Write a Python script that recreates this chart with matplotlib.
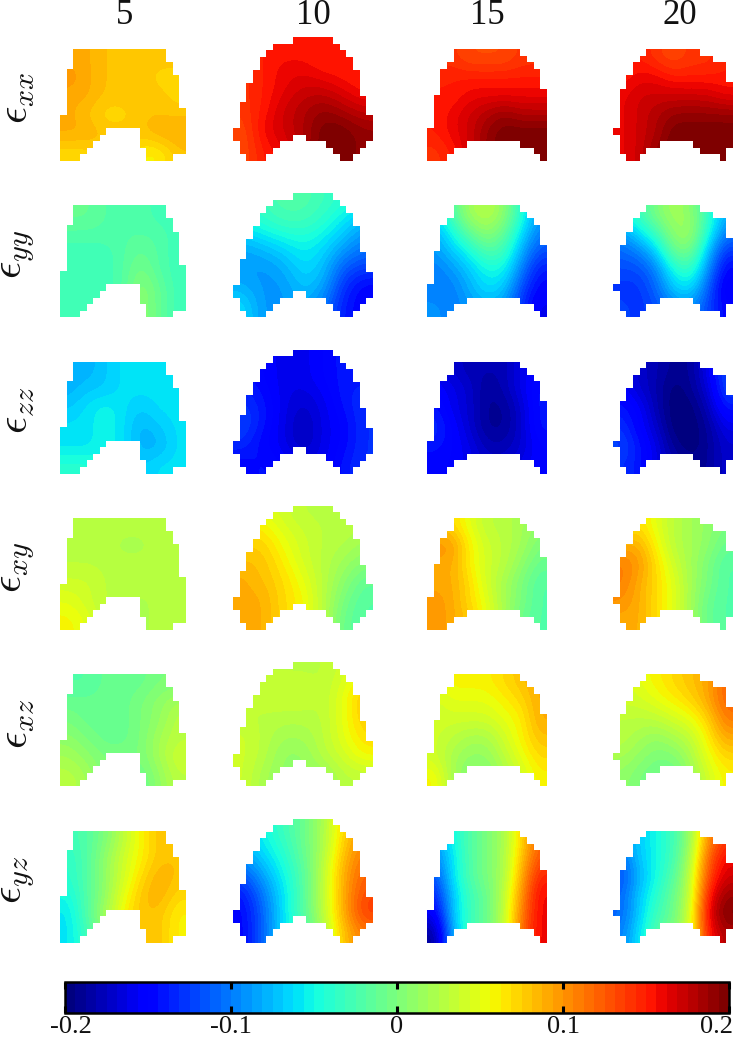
import numpy as np
import matplotlib
matplotlib.use('Agg')
import matplotlib.pyplot as plt
from matplotlib.path import Path
from matplotlib.cm import ScalarMappable
from matplotlib.colors import Normalize
from matplotlib.transforms import ScaledTranslation

plt.rcParams['font.family'] = ['Liberation Serif', 'DejaVu Serif']
plt.rcParams['mathtext.fontset'] = 'cm'

# column titles and row labels
frames = ['5', '10', '15', '20']
strains = [r'$\epsilon_{xx}$', r'$\epsilon_{yy}$', r'$\epsilon_{zz}$',
           r'$\epsilon_{xy}$', r'$\epsilon_{xz}$', r'$\epsilon_{yz}$']
cbar_ticks = [-0.2, -0.1, 0, 0.1, 0.2]
cbar_labels = ['-0.2', '-0.1', '0', '0.1', '0.2']

# footprint of the tissue for each frame: (first, end) cell spans per row
mask_5 = [[(2, 16)], [(2, 16)], [(2, 17)], [(1, 17)], [(1, 18)], [(1, 18)], [(1, 18)], [(1, 18)], [(1, 18)],
          [(1, 19)], [(0, 19)], [(0, 19)], [(0, 7), (12, 19)], [(0, 6), (12, 19)], [(0, 5), (12, 19)],
          [(0, 4), (13, 19)], [(0, 3), (13, 17)]]
mask_10 = [[(9, 15)], [(6, 16)], [(5, 17)], [(4, 18)], [(4, 18)], [(3, 19)], [(3, 19)], [(2, 19)], [(2, 19)],
           [(2, 20)], [(1, 20)], [(1, 20)], [(1, 21)], [(1, 21)], [(0, 21)], [(0, 9), (11, 21)],
           [(1, 7), (14, 20)], [(1, 6), (15, 19)], [(2, 5), (16, 18)]]
mask_15 = [[(4, 14)], [(4, 15)], [(3, 16)], [(2, 17)], [(2, 17)], [(2, 17)], [(2, 18)], [(1, 18)], [(1, 18)],
           [(1, 18)], [(1, 18)], [(1, 18)], [(0, 18)], [(0, 18)], [(0, 6), (14, 18)], [(0, 4), (16, 18)],
           [(0, 3), (17, 18)]]
mask_20 = [[(5, 13)], [(4, 15)], [(3, 17)], [(3, 17)], [(2, 17)], [(2, 18)], [(1, 18)], [(1, 18)], [(1, 18)],
           [(1, 18)], [(1, 18)], [(1, 18)], [(0, 18)], [(1, 18)], [(1, 7), (12, 18)], [(1, 5), (13, 17)],
           [(2, 4), (16, 17)]]
masks = [mask_5, mask_10, mask_15, mask_20]

# strain values, in hundredths, coarse grid top to bottom
xx_5 = [[9, 9, 8, 8, 8, 8, 8], [10, 9, 8, 8, 8, 7, 7], [9, 9, 8, 8, 8, 8, 7],
        [9, 8, 7, 7, 8, 8, 8], [9, 9, 8, 8, 8, 9, 9], [7, 7, 8, 8, 6, 6, 8]]
xx_10 = [[15, 15, 15, 15, 15, 15, 15], [14, 15, 16, 16, 15, 15, 15], [14, 15, 16, 17, 17, 16, 15],
         [14, 15, 17, 18, 19, 18, 17], [13, 16, 17, 18, 20, 20, 19], [13, 15, 16, 18, 20, 20, 19]]
xx_15 = [[14, 14, 13, 13, 13, 14, 14], [15, 15, 15, 15, 15, 15, 15], [15, 15, 16, 16, 16, 16, 16],
         [15, 16, 17, 18, 19, 18, 18], [15, 16, 17, 19, 20, 20, 20], [14, 15, 17, 19, 20, 20, 20]]
xx_20 = [[15, 15, 14, 13, 14, 14, 15], [15, 16, 16, 15, 15, 15, 15], [16, 17, 17, 17, 17, 17, 16],
         [16, 17, 18, 19, 19, 19, 19], [16, 17, 18, 20, 20, 20, 20], [16, 17, 19, 20, 20, 20, 20]]

yy_5 = [[-1, -1, -2, -2, -2, -3, -3], [-2, -2, -2, -2, -2, -2, -3], [-3, -3, -3, -2, -1, -2, -3],
        [-3, -3, -3, -2, 0, -2, -3], [-3, -3, -3, -2, 1, -1, -3], [-3, -3, -3, -2, 1, -1, -3]]
yy_10 = [[-4, -3, -2, -2, -3, -4, -5], [-5, -4, -3, -3, -4, -6, -8], [-8, -7, -6, -5, -6, -8, -10],
         [-9, -9, -8, -6, -7, -11, -12], [-8, -9, -9, -7, -8, -13, -15], [-6, -9, -9, -8, -10, -14, -15]]
yy_15 = [[-6, -2, 2, 3, 1, -4, -9], [-8, -5, -1, 1, -1, -6, -10], [-9, -7, -5, -2, -3, -8, -12],
         [-10, -9, -7, -5, -5, -10, -14], [-10, -10, -8, -6, -7, -12, -15], [-9, -10, -9, -8, -9, -13, -16]]
yy_20 = [[-5, -3, 0, 2, 1, -3, -8], [-9, -6, -3, 1, 2, -4, -10], [-11, -10, -7, -1, 0, -7, -13],
         [-12, -12, -10, -5, -3, -9, -15], [-13, -13, -11, -7, -6, -11, -16], [-12, -13, -12, -10, -9, -12, -15]]

zz_5 = [[-8, -8, -7, -6, -6, -6, -6], [-8, -7, -7, -6, -6, -6, -6], [-7, -6, -5, -6, -7, -6, -6],
        [-6, -6, -5, -6, -8, -7, -6], [-6, -6, -5, -6, -8, -8, -6], [-4, -4, -5, -6, -7, -6, -6]]
zz_10 = [[-14, -15, -16, -16, -15, -14, -14], [-14, -15, -16, -16, -15, -14, -14], [-13, -14, -16, -17, -16, -14, -13],
         [-12, -14, -16, -18, -16, -15, -13], [-13, -15, -16, -18, -16, -15, -13], [-15, -14, -15, -16, -16, -14, -13]]
zz_15 = [[-16, -17, -18, -18, -18, -16, -15], [-15, -16, -17, -19, -18, -16, -14], [-14, -16, -17, -19, -19, -17, -14],
         [-13, -15, -17, -19, -19, -17, -14], [-14, -15, -16, -18, -18, -17, -15], [-15, -15, -16, -17, -17, -16, -15]]
zz_20 = [[-16, -17, -18, -19, -19, -16, -12], [-15, -17, -18, -20, -19, -17, -12], [-14, -15, -18, -20, -20, -18, -14],
         [-13, -15, -17, -20, -20, -19, -16], [-12, -14, -16, -19, -20, -19, -17], [-13, -14, -16, -18, -19, -19, -17]]

xy_5 = [[3, 3, 3, 3, 3, 3, 3], [3, 3, 3, 2, 2, 3, 3], [3, 3, 3, 3, 3, 3, 3],
        [4, 4, 3, 3, 3, 3, 3], [5, 4, 3, 3, 2, 3, 3], [6, 5, 3, 3, 2, 3, 3]]
xy_10 = [[6, 5, 4, 3, 3, 3, 3], [7, 7, 5, 4, 3, 3, 2], [8, 8, 6, 4, 3, 2, 1],
         [9, 8, 7, 5, 3, 1, -1], [9, 9, 7, 6, 3, 0, -2], [9, 9, 7, 6, 3, -1, -2]]
xy_15 = [[8, 7, 5, 3, 3, 2, 1], [10, 10, 6, 4, 3, 2, 0], [9, 9, 6, 4, 3, 1, -1],
         [9, 9, 7, 4, 2, 0, -2], [10, 9, 7, 5, 2, 0, -2], [10, 9, 8, 5, 2, -1, -2]]
xy_20 = [[6, 7, 5, 3, 2, 1, 0], [9, 9, 6, 3, 2, 1, -1], [11, 10, 7, 4, 2, 0, -2],
         [11, 9, 7, 5, 2, 0, -2], [10, 9, 7, 5, 2, -1, -2], [9, 9, 7, 5, 2, -1, -2]]

xz_5 = [[-2, -2, -1, -1, -1, 0, 0], [-1, -1, -1, -1, 0, 1, 2], [0, -1, -1, -1, 0, 1, 3],
        [1, 0, -1, -1, 0, 2, 3], [2, 1, 0, 0, 0, 2, 4], [3, 2, 0, 0, -1, 1, 3]]
xz_10 = [[3, 3, 3, 3, 3, 4, 5], [3, 4, 4, 4, 3, 5, 8], [3, 3, 3, 3, 3, 5, 8],
         [4, 3, 2, 2, 3, 5, 7], [4, 3, 1, 1, 3, 4, 6], [4, 2, 1, 1, 1, 3, 3]]
xz_15 = [[5, 6, 6, 6, 7, 8, 9], [4, 5, 5, 5, 6, 7, 9], [4, 4, 4, 4, 5, 6, 9],
         [4, 3, 2, 2, 4, 6, 8], [4, 2, 1, 1, 3, 5, 7], [6, 2, 0, 0, 2, 4, 6]]
xz_20 = [[4, 5, 6, 7, 8, 9, 12], [4, 4, 5, 6, 7, 9, 12], [3, 3, 3, 4, 5, 7, 11],
         [3, 2, 1, 2, 3, 6, 9], [2, 1, 0, 0, 2, 5, 7], [1, 0, -1, -1, 1, 4, 6]]

yz_5 = [[-3, -2, 0, 3, 6, 8, 8], [-4, -2, 1, 4, 6, 8, 8], [-4, -2, 1, 4, 7, 9, 8],
        [-5, -2, 1, 5, 8, 9, 7], [-6, -2, 2, 6, 8, 8, 6], [-6, -3, 1, 6, 8, 8, 6]]
yz_10 = [[-7, -5, -3, -1, 2, 7, 10], [-8, -6, -4, -1, 2, 8, 11], [-11, -8, -5, -2, 3, 9, 12],
         [-14, -10, -6, -2, 3, 9, 13], [-15, -11, -6, -2, 3, 9, 14], [-15, -11, -6, -3, 2, 8, 11]]
yz_15 = [[-9, -5, -2, 0, 2, 7, 12], [-10, -6, -2, 0, 2, 8, 13], [-12, -6, -2, 0, 2, 9, 15],
         [-14, -7, -3, -1, 3, 10, 16], [-16, -7, -3, -1, 3, 11, 16], [-19, -8, -3, -1, 3, 12, 16]]
yz_20 = [[-9, -7, -5, -3, 1, 10, 14], [-11, -7, -5, -3, 2, 12, 16], [-12, -8, -5, -2, 3, 13, 17],
         [-11, -7, -4, -1, 3, 15, 19], [-11, -7, -3, -1, 4, 16, 20], [-10, -6, -2, 0, 4, 15, 18]]

panels = [[xx_5, xx_10, xx_15, xx_20], [yy_5, yy_10, yy_15, yy_20], [zz_5, zz_10, zz_15, zz_20],
          [xy_5, xy_10, xy_15, xy_20], [xz_5, xz_10, xz_15, xz_20], [yz_5, yz_10, yz_15, yz_20]]

W, H = 734, 1050
fig = plt.figure(figsize=(W / 100, H / 100), dpi=100)
cmap = plt.get_cmap('jet', 64)


def px_axes(x0, y0, x1, y1):
    # axes from pixel box, y measured from the top of the image
    return fig.add_axes([x0 / W, 1 - y1 / H, (x1 - x0) / W, (y1 - y0) / H])


# pixel layout of each column: left, right, top of first row
col_left = [60, 233, 427, 613]
col_right = [186, 373, 547, 733]
col_top = [49, 37, 49, 49]
title_x = [125, 313, 487, 680]
row_bottom = 161
row_pitch = 156.3

for r, row in enumerate(panels):
    for c, vals in enumerate(row):
        mask = masks[c]
        nrows = len(mask)
        ncols = max(s[1] for spans in mask for s in spans)
        ax = px_axes(col_left[c], col_top[c] + r * row_pitch, col_right[c], row_bottom + r * row_pitch)
        im = ax.imshow(np.array(vals) / 100, cmap=cmap, vmin=-0.2, vmax=0.2, aspect='auto',
                       extent=(0, ncols, nrows, 0), interpolation='bicubic', interpolation_stage='data')
        rects = []
        for i, spans in enumerate(mask):
            for a, b in spans:
                rects.append(Path([(a, i), (b, i), (b, i + 1), (a, i + 1), (a, i)], closed=True))
        im.set_clip_path(Path.make_compound_path(*rects), ax.transData)
        ax.axis('off')
        ax.patch.set_visible(False)

for c, name in enumerate(frames):
    fig.text(title_x[c] / W, 1 - 24 / H, name, ha='center', va='baseline', fontsize=25, color='#111111')

for r, name in enumerate(strains):
    fig.text(18 / W, 1 - (98 + r * row_pitch) / H, name, rotation=90, ha='center', va='center',
             fontsize=31, color='#111111')

cax = px_axes(65, 982, 729, 1013)
cb = fig.colorbar(ScalarMappable(norm=Normalize(-0.2, 0.2), cmap=cmap), cax=cax, orientation='horizontal')
cb.set_ticks(cbar_ticks)
cb.set_ticklabels(cbar_labels)
cb.outline.set_linewidth(1.8)
cax.tick_params(axis='x', direction='in', length=5, width=2.2, top=True, bottom=True, labelsize=19, pad=2,
                color='black', labelcolor='#111111')

# end labels sit inward of their ticks, as in the original
labels = cax.get_xticklabels()
labels[0].set_transform(labels[0].get_transform() + ScaledTranslation(0.06, 0, fig.dpi_scale_trans))
labels[-1].set_ha('right')
labels[-1].set_transform(labels[-1].get_transform() + ScaledTranslation(0.04, 0, fig.dpi_scale_trans))

fig.savefig('out.png', dpi=100)
